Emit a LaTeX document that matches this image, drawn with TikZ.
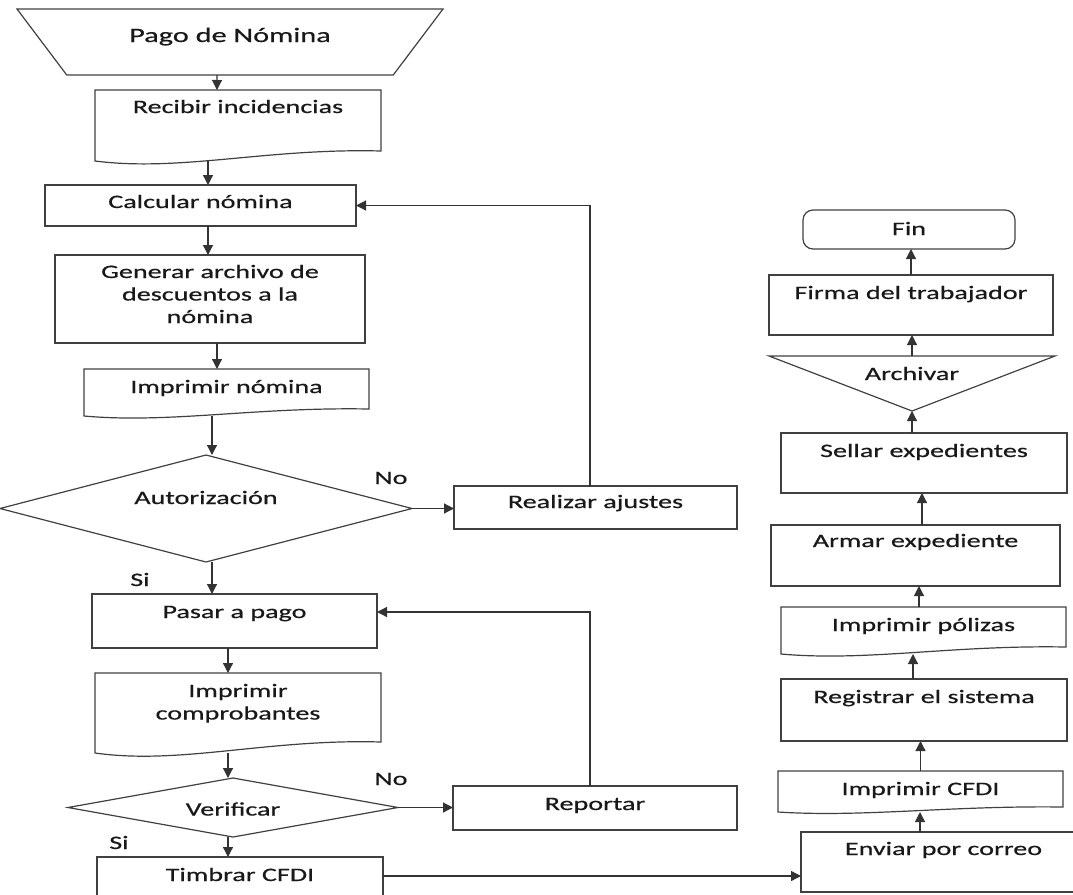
\documentclass[tikz,border=0pt]{standalone}
\usepackage{fontspec}
\setmainfont{Carlito}[FakeStretch=1.48, FakeBold=0.6]
\usetikzlibrary{calc,positioning,arrows.meta,shapes.geometric}
\tikzset{
	>={Triangle[length=10pt,width=10pt]},
	base/.style={
		inner sep=0pt,
		outer sep=0pt,
		align=center,
		font=\fontsize{19}{22.5}\selectfont,
		text=black!90},
	proceso/.style={
		base,
		rectangle,
		draw=black!75, line width=1.2pt},
	documento/.style={base, rectangle},
	entrada/.style={
		base,
		trapezium,
		trapezium angle=53,
		trapezium stretches body=true,
		shape border rotate=180,
		draw=black!75, line width=1.2pt},
	decision/.style={
		base,
		diamond,
		draw=black!75, line width=1.2pt},
	fin/.style={proceso, rounded corners=10pt},
	etiqueta/.style={base, anchor=base},
	contorno/.style={draw=black!75, line width=1.2pt},
	line/.style={draw=black!80, line width=1.2pt, ->},
}

\begin{document}
\begin{tikzpicture}[x=1pt, y=-1pt]
	\useasboundingbox (0,0) rectangle (1073,894);
	% columna izquierda
	\node[entrada, minimum width=426pt, text height=33pt, text depth=33pt] (pago) at (230,42) {\fontsize{20.5}{24}\selectfont Pago de Nómina};
	\node[documento, minimum width=286pt, text height=23pt, text depth=48pt] (recibir) at (238,125.5) {Recibir incidencias};
	\node[proceso, minimum width=311pt, text height=23pt, text depth=18pt] (calc) at (200.5,205.5) {Calcular nómina};
	\node[proceso, text width=310pt, text height=23pt, text depth=65pt] (generar) at (210,299) {Generar archivo de\\ descuentos a la\\ nómina};
	\node[documento, minimum width=285pt, text height=24pt, text depth=23pt] (impnom) at (226.5,392.5) {Imprimir nómina};
	\node[decision, aspect=3.85, minimum width=412pt, minimum height=107pt, text height=10pt, text depth=19pt] (autor) at (206,508.5) {Autorización};
	\node[proceso, minimum width=283pt, text height=22pt, text depth=21pt] (ajustes) at (595.5,507.5) {Realizar ajustes};
	\node[proceso, minimum width=285pt, text height=24pt, text depth=30pt] (pasar) at (234.5,621) {Pasar a pago};
	\node[documento, text width=286pt, text height=24pt, text depth=56pt] (compro) at (238,713) {Imprimir\\ comprobantes};
	\node[decision, aspect=5.6, minimum width=330pt, minimum height=59pt, text height=20pt, text depth=4pt] (verif) at (233,807.5) {Verificar};
	\node[proceso, minimum width=284pt, text height=24pt, text depth=20pt] (reportar) at (595,808) {Reportar};
	\node[proceso, minimum width=286pt, text height=24pt, text depth=40pt] (timbrar) at (240,889) {Timbrar CFDI};
	% columna derecha
	\node[proceso, minimum width=285pt, text height=23pt, text depth=37pt] (enviar) at (943.5,862) {Enviar por correo};
	\node[documento, minimum width=285pt, text height=24pt, text depth=17pt] (cfdi) at (920.5,791.5) {Imprimir CFDI};
	\node[proceso, minimum width=286pt, text height=24pt, text depth=38pt] (registrar) at (924,710) {Registrar el sistema};
	\node[documento, minimum width=285pt, text height=24pt, text depth=23pt] (polizas) at (923.5,630.5) {Imprimir pólizas};
	\node[proceso, minimum width=289pt, text height=22pt, text depth=39pt] (armar) at (915.5,555.5) {Armar expediente};
	\node[proceso, minimum width=286pt, text height=24pt, text depth=36pt] (sellar) at (924,463) {Sellar expedientes};
	\node[base, minimum width=286pt, text height=24pt, text depth=31pt] (archivar) at (912,383.5) {Archivar};
	\node[proceso, minimum width=284pt, text height=24pt, text depth=36pt] (firma) at (911,305) {Firma del trabajador};
	\node[fin, minimum width=212pt, text height=25pt, text depth=14pt] (final) at (909,229.5) {Fin};
	% etiquetas
	\node[etiqueta] (no1) at (391,484) {No};
	\node[etiqueta] (si1) at (140,586) {Si};
	\node[etiqueta] (no2) at (391,785) {No};
	\node[etiqueta] (si2) at (119,849) {Si};

	% documentos con borde ondulado
	\foreach \n/\d in {recibir/10, impnom/7, compro/11, polizas/7, cfdi/5} {
		\pgfmathsetmacro{\up}{1.3*\d}
		\pgfmathsetmacro{\dn}{-1.1*\d}
		\draw[contorno] (\n.south west) -- (\n.north west) -- (\n.north east)
			-- ([yshift=\d pt]\n.south east)
			.. controls ($(\n.south west)!0.6!(\n.south east)+(0pt,\up pt)$)
			and ($(\n.south west)!0.3!(\n.south east)+(0pt,\dn pt)$) .. (\n.south west) -- cycle;
	}
	\draw[contorno] (archivar.north west) -- (archivar.north east) -- (archivar.south) -- cycle;

	% conectores
	\draw[line] ([xshift=-13pt]pago.south) -- ([xshift=-21pt]recibir.north);
	\draw[line] ([xshift=-30pt]recibir.south) -- ([xshift=7.5pt]calc.north);
	\draw[line] ([xshift=7.5pt]calc.south) -- ([xshift=-2pt]generar.north);
	\draw[line] ([xshift=7pt]generar.south) -- ([xshift=-9.5pt]impnom.north);
	\draw[line] ([xshift=-14.5pt]impnom.south) -- ([xshift=-14.5pt]impnom.south |- autor.north);
	\draw[line] (autor.east) -- (ajustes.west |- autor.east);
	\draw[line] ([xshift=-5.5pt]ajustes.north) |- (calc.east);
	\draw[line] ([xshift=-22.5pt]pasar.north |- autor.south) -- ([xshift=-22.5pt]pasar.north);
	\draw[line] ([xshift=-6.5pt]pasar.south) -- ([xshift=-10pt]compro.north);
	\draw[line] ([xshift=-10pt]compro.south) -- ([xshift=-10pt]compro.south |- verif.north);
	\draw[line] (verif.east) -- (reportar.west |- verif.east);
	\draw[line] ([xshift=-5pt]reportar.north) |- ([yshift=9pt]pasar.east);
	\draw[line] ([xshift=-12pt]timbrar.north |- verif.south) -- ([xshift=-12pt]timbrar.north);
	\coordinate (tline) at ([yshift=13pt]timbrar.east);
	\draw[line] (tline) -- (tline -| enviar.west);
	\draw[line] ([xshift=-23.5pt]enviar.north) -- ([xshift=-23.5pt]enviar.north |- cfdi.south);
	\draw[line] (cfdi.north) -- (cfdi.north |- registrar.south);
	\draw[line] ([xshift=-11pt]registrar.north) -- ([xshift=-11pt]registrar.north |- polizas.south);
	\draw[line] ([xshift=-4.5pt]polizas.north) -- ([xshift=-4.5pt]polizas.north |- armar.south);
	\draw[line] ([xshift=6.5pt]armar.north) -- ([xshift=6.5pt]armar.north |- sellar.south);
	\draw[line] (sellar.north -| archivar.south) -- (archivar.south);
	\draw[line] (archivar.north) -- (archivar.north |- firma.south);
	\draw[line] (firma.north) -- (firma.north |- final.south);
\end{tikzpicture}
\end{document}
